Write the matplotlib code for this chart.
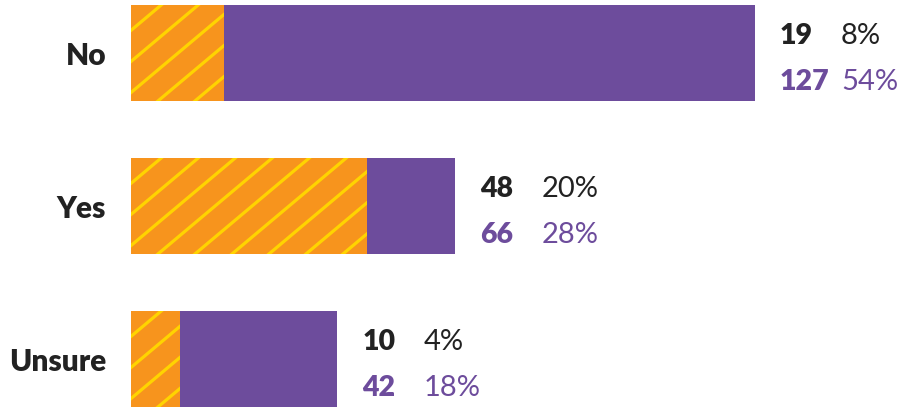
import matplotlib
matplotlib.use("Agg")
import matplotlib.pyplot as plt
from matplotlib.lines import Line2D
from matplotlib.transforms import IdentityTransform
import numpy as np

categories = ["No", "Yes", "Unsure"]
first_counts = [19, 48, 10]
first_pcts = ["8%", "20%", "4%"]
second_counts = [127, 66, 42]
second_pcts = ["54%", "28%", "18%"]

ORANGE = "#F7941D"
YELLOW = "#FFD400"
PURPLE = "#6D4C9C"
BLACK = "#222222"

plt.rcParams['font.family'] = ['Lato', 'DejaVu Sans']

fig = plt.figure(figsize=(9, 4.08), dpi=100)
ax = fig.add_axes([131/900, 0, 1 - 131/900, 1])
ax.set_xlim(0, 769/4.913)
pitch = 153.0
ax.set_ylim(2 + (408-359.0)/pitch, -53.0/pitch)
ax.axis('off')

y = np.arange(len(categories))
h = 0.625
ax.barh(y, second_counts, height=h, color=PURPLE, zorder=1)
obars = ax.barh(y, first_counts, height=h, color=ORANGE, zorder=2)

fig.canvas.draw()
# diagonal hatch lines clipped to each orange bar
for b in obars:
    x0, y0 = ax.transData.transform((b.get_x(), b.get_y()))
    x1, y1 = ax.transData.transform((b.get_x() + b.get_width(), b.get_y() + b.get_height()))
    top = max(y0, y1); bot = min(y0, y1)
    left = min(x0, x1)
    slope = 0.84
    for k in range(-5, 40):
        xs = left + 30 + 37 * k
        xa = xs - (top - bot + 20) / slope
        ln = Line2D([xs + 20 / slope, xa], [top + 20, bot - 20], transform=IdentityTransform(),
                    color=YELLOW, lw=2.3, zorder=3)
        ax.add_line(ln)
        ln.set_clip_path(b)

for i in range(len(categories)):
    ax.annotate(categories[i], xy=(0, y[i]), xytext=(-25, -3), textcoords='offset pixels',
                ha='right', va='center', fontsize=21.5, fontweight='heavy', color=BLACK)
    end = max(first_counts[i], second_counts[i])
    ax.annotate(str(first_counts[i]), xy=(end, y[i]), xytext=(25, 9), textcoords='offset pixels',
                ha='left', va='baseline', fontsize=20.5, fontweight='heavy', color=BLACK)
    ax.annotate(first_pcts[i], xy=(end, y[i]), xytext=(86, 9), textcoords='offset pixels',
                ha='left', va='baseline', fontsize=21, color=BLACK)
    ax.annotate(str(second_counts[i]), xy=(end, y[i]), xytext=(25, -37), textcoords='offset pixels',
                ha='left', va='baseline', fontsize=20.5, fontweight='heavy', color=PURPLE)
    ax.annotate(second_pcts[i], xy=(end, y[i]), xytext=(86, -37), textcoords='offset pixels',
                ha='left', va='baseline', fontsize=21, color=PURPLE)

fig.savefig("out.png", dpi=100)
